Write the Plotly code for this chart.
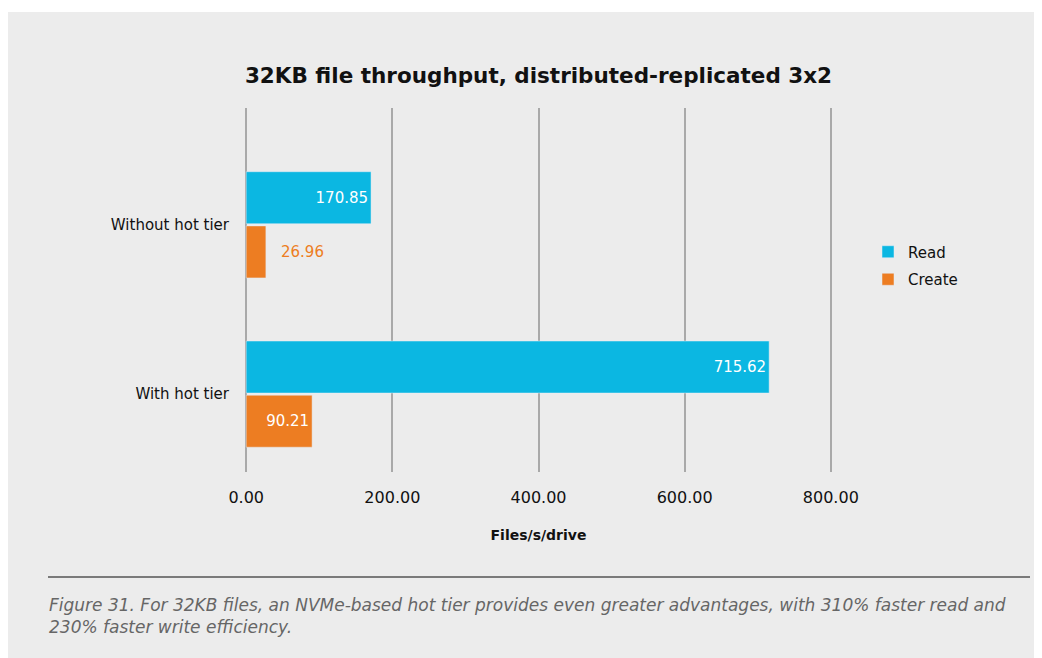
import plotly.graph_objects as go

categories = ["With hot tier", "Without hot tier"]
read_vals = [715.62, 170.85]
create_vals = [90.21, 26.96]
x_ticks = [0, 200, 400, 600, 800]
x_tick_labels = ["0.00", "200.00", "400.00", "600.00", "800.00"]

READ = "#0bb7e2"
CREATE = "#ed7d22"
BG = "#ececec"
FONT = "DejaVu Sans"

OFF = 8  # page body margin
W, H = 1034, 650
L, R, T, B = 236, 209, 100, 186
PW = W - L - R
PH = H - T - B

def px(page_x):
    return (page_x - OFF - L) / PW

def py(page_y):
    return (H - B - (page_y - OFF)) / PH

fig = go.Figure()
fig.add_trace(go.Bar(
    y=categories, x=create_vals, orientation="h", name="Create",
    marker_color=CREATE, legendgroup="c",
    text=["%.2f" % create_vals[0], ""],
    textposition="inside", insidetextanchor="end",
    textfont=dict(color="white", size=15, family=FONT),
    legendrank=2,
))
fig.add_trace(go.Bar(
    y=categories, x=read_vals, orientation="h", name="Read",
    marker_color=READ, legendgroup="r",
    text=["%.2f" % v for v in read_vals],
    textposition="inside", insidetextanchor="end",
    textfont=dict(color="white", size=15, family=FONT),
    legendrank=1,
))

# outside label for the small create bar
fig.add_annotation(x=create_vals[1], y=1, xref="x", yref="y", text="%.2f" % create_vals[1],
                   showarrow=False, xanchor="left", xshift=13, yshift=-27,
                   font=dict(color=CREATE, size=15, family=FONT))

fig.update_layout(
    width=W, height=H,
    margin=dict(l=L, r=R, t=T, b=B),
    paper_bgcolor=BG, plot_bgcolor=BG,
    barmode="group", bargap=0.36, bargroupgap=0.04,
    font=dict(family=FONT, color="#111111"),
    title=dict(text="<b>32KB file throughput, distributed-replicated 3x2</b>",
               x=0.5, xref="paper", xanchor="center",
               y=1 - (75 - OFF) / H, yref="container", yanchor="middle",
               font=dict(size=21.5, family=FONT, color="#111111")),
    legend=dict(x=px(868), y=py(265.5), xanchor="left", yanchor="middle",
                font=dict(size=15, family=FONT, color="#111111"),
                bgcolor="rgba(0,0,0,0)", tracegroupgap=5),
    showlegend=True,
)
fig.update_xaxes(range=[-3, 803], tickvals=x_ticks, ticktext=x_tick_labels,
                 showgrid=True, gridcolor="#a9a9a9", gridwidth=2, zeroline=False,
                 showline=False, ticks="", ticklabelstandoff=14,
                 tickfont=dict(size=16, family=FONT, color="#111111"),
                 title=dict(text="<b>Files/s/drive</b>", standoff=24,
                            font=dict(size=14, family=FONT, color="#111111")))
fig.update_yaxes(range=[-0.46, 1.69], showgrid=False, zeroline=False, showline=False,
                 ticks="", ticklabelstandoff=14,
                 tickfont=dict(size=15, family=FONT, color="#111111"))

# white strip at top of page
fig.add_shape(type="rect", xref="paper", yref="paper", x0=px(0), x1=px(1100), y0=py(12), y1=py(0),
              fillcolor="white", line_width=0, layer="below")
# separator line
fig.add_shape(type="line", xref="paper", yref="paper", x0=px(48), x1=px(1030), y0=py(577), y1=py(577),
              line=dict(color="#7a7a7a", width=2))
fig.add_annotation(xref="paper", yref="paper", x=px(47), y=py(593), xanchor="left", yanchor="top",
                   align="left", showarrow=False,
                   text="<i>Figure 31. For 32KB files, an NVMe-based hot tier provides even greater advantages, with 310% faster read and<br>230% faster write efficiency.</i>",
                   font=dict(size=17, family=FONT, color="#666666"))

fig.write_html("out.html")
